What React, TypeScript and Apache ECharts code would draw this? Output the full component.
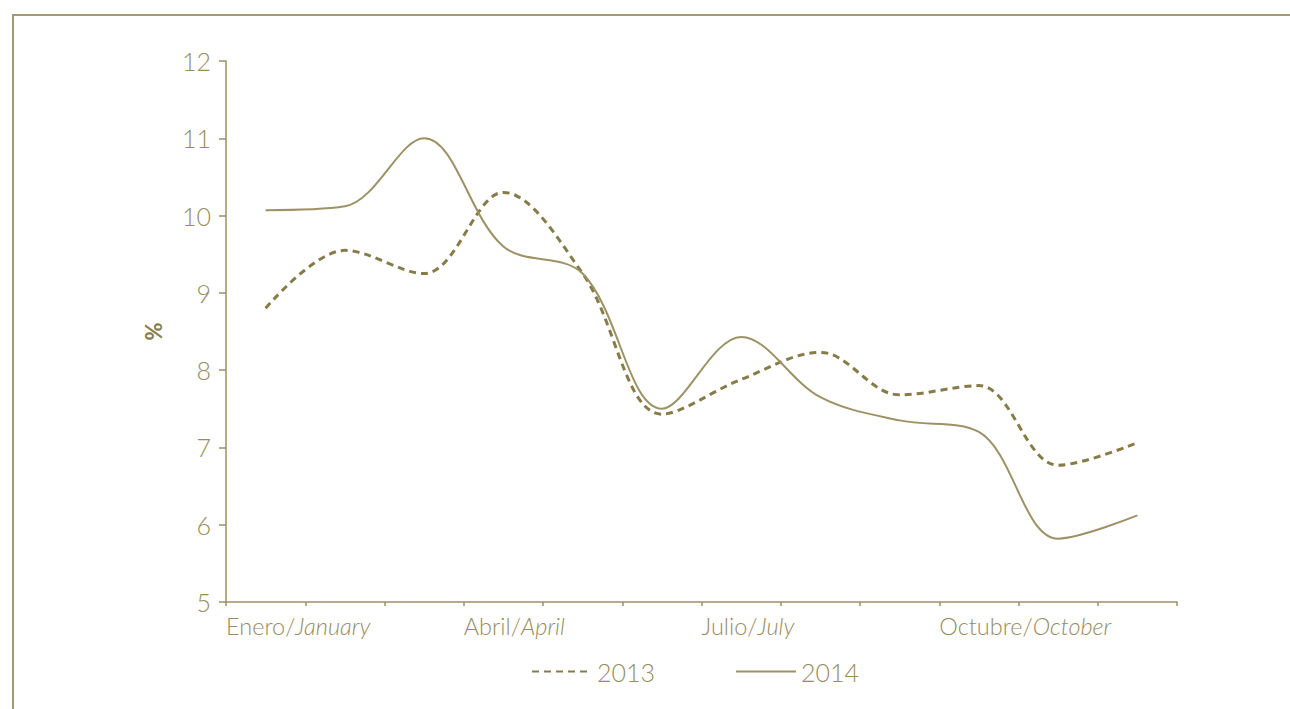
import React, { useEffect, useRef } from "react";
import * as echarts from "echarts";

const months = ["Ene", "Feb", "Mar", "Abr", "May", "Jun", "Jul", "Ago", "Sep", "Oct", "Nov", "Dic"];
const tickLabelsEs: Record<number, string> = { 0: "Enero/", 3: "Abril/", 6: "Julio/", 9: "Octubre/" };
const tickLabelsEn: Record<number, string> = { 0: "January", 3: "April", 6: "July", 9: "October" };
const values2013 = [8.8, 9.55, 9.25, 10.3, 9.25, 7.43, 7.88, 8.23, 7.68, 7.8, 6.77, 7.06];
const values2014 = [10.07, 10.12, 11.0, 9.6, 9.25, 7.5, 8.43, 7.65, 7.35, 7.2, 5.82, 6.12];
const seriesNames = ["2013", "2014"];
const yTicks = { min: 5, max: 12, interval: 1 };

const TEXT = "#978c5e";
const AXIS = "#9c9166";
const C2013 = "#877c48";
const C2014 = "#9d9266";
const FONT = "Lato, 'Open Sans', sans-serif";

export default function App() {
  const ref = useRef<HTMLDivElement>(null);
  useEffect(() => {
    if (!ref.current) return;
    const chart = echarts.init(ref.current, undefined, { renderer: "svg" });
    const toPts = (vals: number[]) => vals.map((v, i) => [i + 0.5, v]);
    chart.setOption({
      animation: false,
      backgroundColor: "#ffffff",
      textStyle: { fontFamily: FONT, fontWeight: 300, color: TEXT },
      graphic: [
        {
          type: "rect",
          shape: { x: 13, y: 15, width: 1400, height: 800 },
          style: { fill: "none", stroke: "#a39a74", lineWidth: 2 },
          silent: true,
        },
      ],
      grid: { left: 226, right: 113, top: 61, bottom: 107 },
      xAxis: {
        type: "value",
        min: 0,
        max: months.length,
        interval: 1,
        axisLine: { show: true, lineStyle: { color: AXIS, width: 1.5 } },
        axisTick: { show: true, inside: false, length: 4, lineStyle: { color: AXIS, width: 1.5 } },
        splitLine: { show: false },
        axisLabel: {
          show: true,
          margin: 12,
          align: "left",
          color: TEXT,
          fontSize: 23.5,
          fontFamily: FONT,
          fontWeight: 300,
          formatter: (v: number) =>
            tickLabelsEs[v] ? `{a|${tickLabelsEs[v]}}{b|${tickLabelsEn[v]}}` : "",
          rich: {
            a: { fontSize: 23.5, color: TEXT, fontFamily: FONT, fontWeight: 300 },
            b: { fontSize: 23.5, color: TEXT, fontFamily: FONT, fontWeight: 300, fontStyle: "italic" },
          },
        },
      },
      yAxis: {
        type: "value",
        min: yTicks.min,
        max: yTicks.max,
        interval: yTicks.interval,
        name: "%",
        nameLocation: "middle",
        nameRotate: 90,
        nameGap: 62,
        nameTextStyle: { fontSize: 22, fontWeight: "bold", color: C2013, fontFamily: FONT },
        axisLine: { show: true, lineStyle: { color: AXIS, width: 1.5 } },
        axisTick: { show: true, inside: false, length: 7, lineStyle: { color: AXIS, width: 1.5 } },
        splitLine: { show: false },
        axisLabel: { margin: 15, fontSize: 25, color: TEXT, fontFamily: FONT, fontWeight: 300 },
      },
      legend: {
        show: true,
        bottom: 20,
        left: 526,
        itemWidth: 60,
        itemHeight: 14,
        itemGap: 80,
        itemStyle: { opacity: 0, borderWidth: 0 },
        textStyle: { fontSize: 25, color: TEXT, fontFamily: FONT, fontWeight: 300 },
        data: seriesNames,
      },
      series: [
        {
          name: seriesNames[0],
          type: "line",
          data: toPts(values2013),
          smooth: 0.35,
          symbol: "none",
          lineStyle: { color: C2013, width: 3, type: [7, 5] },
          itemStyle: { color: C2013 },
        },
        {
          name: seriesNames[1],
          type: "line",
          data: toPts(values2014),
          smooth: 0.35,
          symbol: "none",
          lineStyle: { color: C2014, width: 2 },
          itemStyle: { color: C2014 },
        },
      ],
    });
    return () => chart.dispose();
  }, []);
  return (
    <div
      ref={ref}
      style={{ position: "fixed", left: 0, top: 0, width: 1290, height: 709 }}
    />
  );
}
